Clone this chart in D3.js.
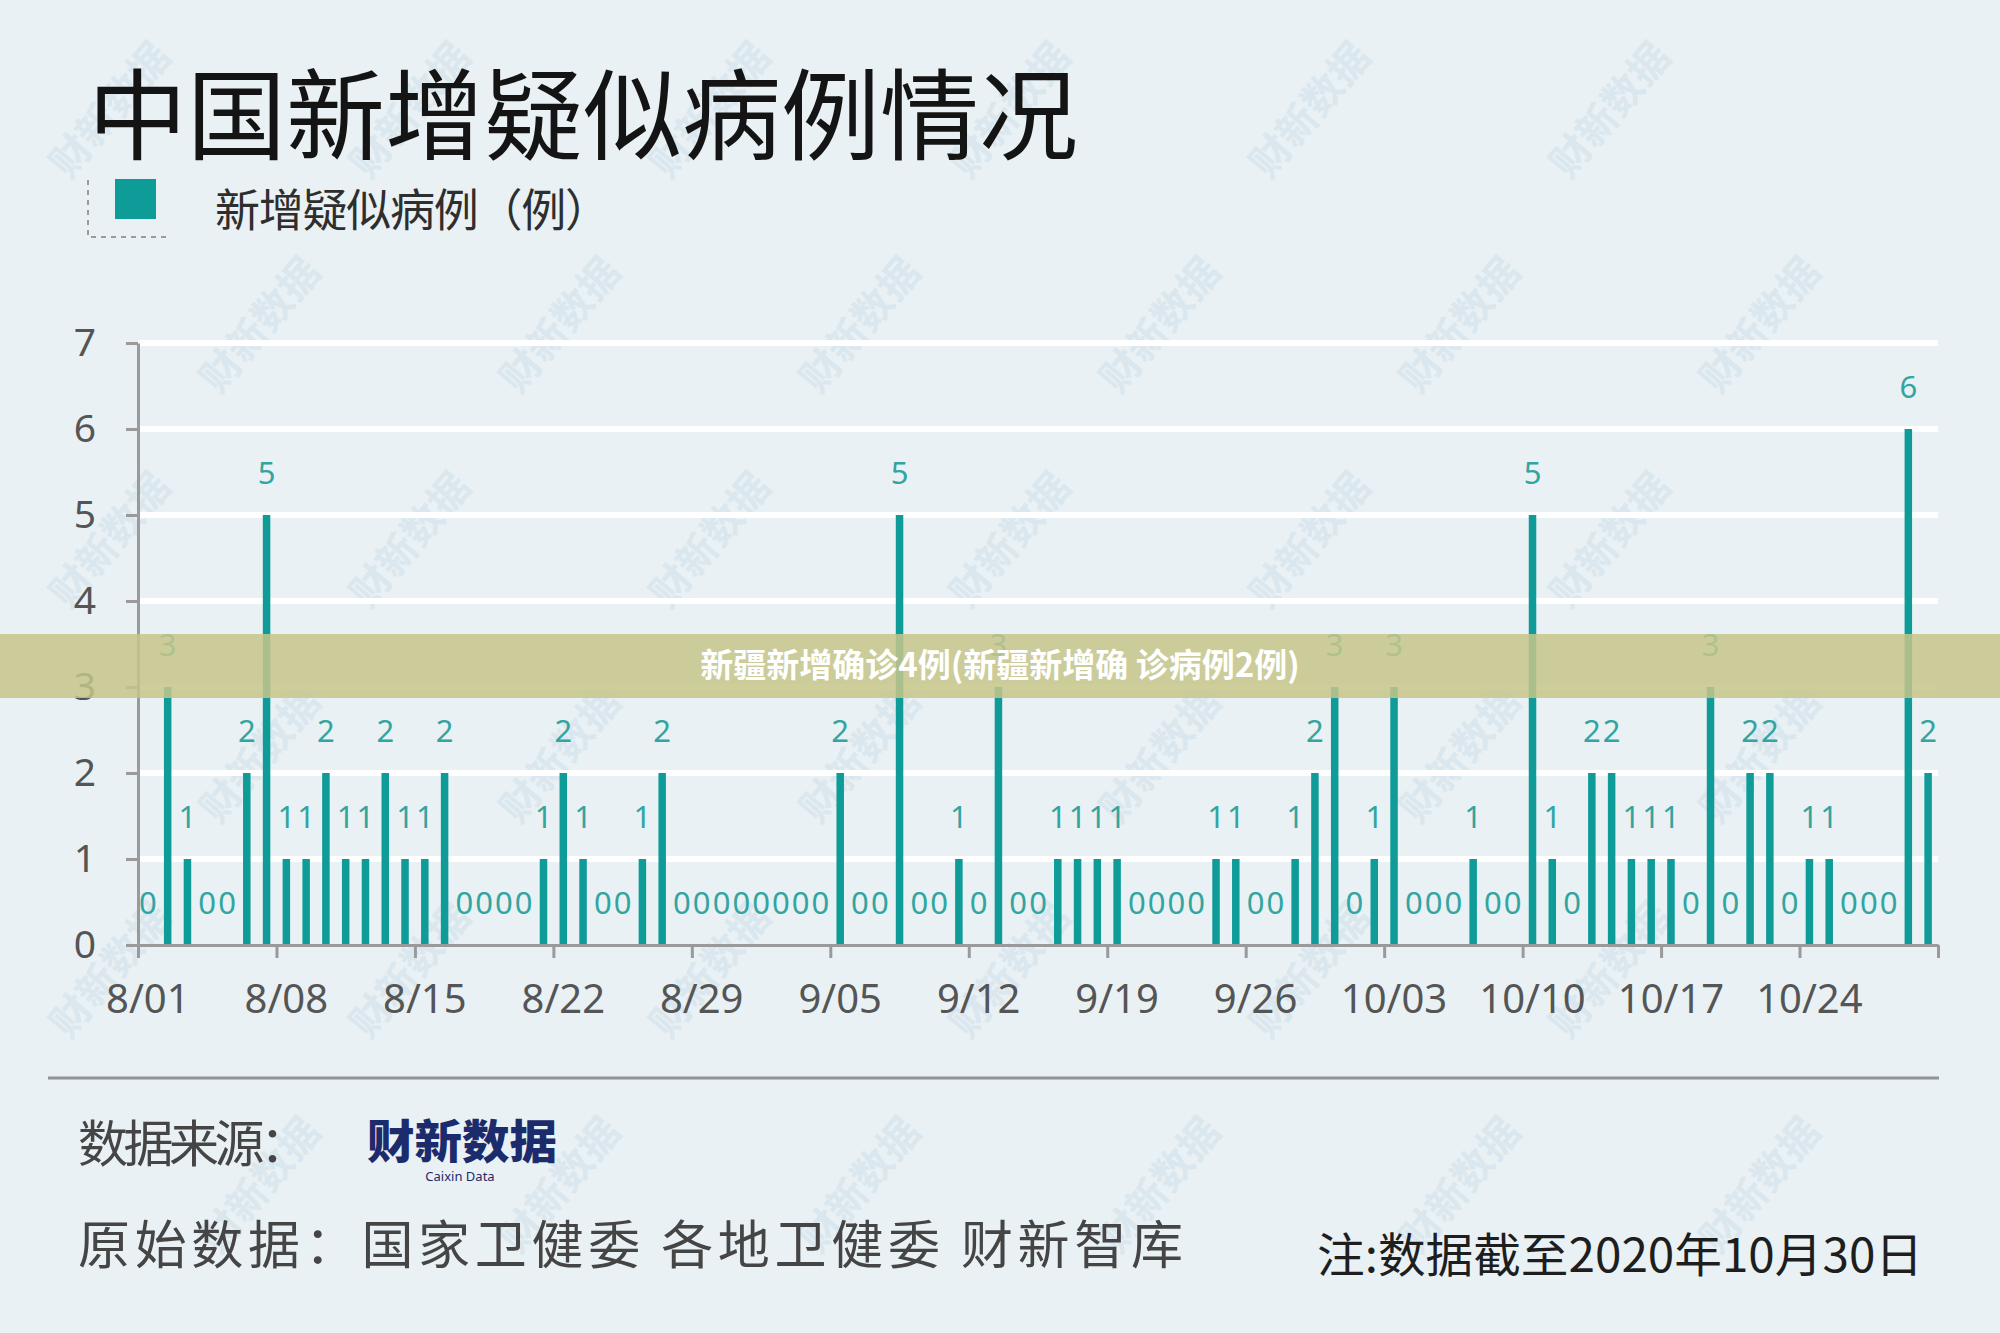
<!DOCTYPE html>
<html>
<head>
<meta charset="utf-8">
<script src="https://cdn.jsdelivr.net/npm/d3@7"></script>
<style>
  html, body { margin: 0; padding: 0; background: #e9f1f4; }
  svg { display: block; }
</style>
</head>
<body>
<svg id="chart" width="2000" height="1333"></svg>
<script>
// daily new suspected cases, 8/01 .. 10/30 (one value per day)
var newSuspected = [
  0, 3, 1, 0, 0, 2, 5, 1, 1, 2, 1, 1, 2, 1, 1, 2, 0, 0, 0, 0,
  1, 2, 1, 0, 0, 1, 2, 0, 0, 0, 0, 0, 0, 0, 0, 2, 0, 0, 5, 0,
  0, 1, 0, 3, 0, 0, 1, 1, 1, 1, 0, 0, 0, 0, 1, 1, 0, 0, 1, 2,
  3, 0, 1, 3, 0, 0, 0, 1, 0, 0, 5, 1, 0, 2, 2, 1, 1, 1, 0, 3,
  0, 2, 2, 0, 1, 1, 0, 0, 0, 6, 2
];
var tickDays   = [0, 7, 14, 21, 28, 35, 42, 49, 56, 63, 70, 77, 84];
var tickLabels = ["8/01","8/08","8/15","8/22","8/29","9/05","9/12","9/19","9/26","10/03","10/10","10/17","10/24"];
var yTicks = [0, 1, 2, 3, 4, 5, 6, 7];

var titleText  = "中国新增疑似病例情况";
var legendText = "新增疑似病例（例）";
var sourceLabel = "数据来源：";
var rawSource  = "原始数据：国家卫健委 各地卫健委 财新智库";
var noteText   = "注:数据截至2020年10月30日";
var bannerText = "新疆新增确诊4例(新疆新增确 诊病例2例)";

var TEAL = "#0f9b97";
var CJK = "'Noto Sans CJK SC', 'Noto Sans', sans-serif";

var svg = d3.select("#chart");

// background
svg.append("rect").attr("width", 2000).attr("height", 1333).attr("fill", "#e9f1f4");

// faint diagonal watermarks
var wm = svg.append("g").attr("fill", "#dbe7ee").attr("font-family", CJK)
    .attr("font-size", 40).attr("font-weight", 700);
for (var r = 0; r < 6; r++) {
  for (var c = 0; c < 7; c++) {
    var wx = 110 + c * 300 + (r % 2) * 150;
    var wy = 110 + r * 215;
    if (wx > 1900 || wy > 1250) continue;
    wm.append("text").attr("transform", "translate(" + wx + "," + wy + ") rotate(-50)")
      .attr("text-anchor", "middle").attr("dy", "0.35em").text("财新数据");
  }
}

// title
svg.append("text").attr("x", 88).attr("y", 152)
  .attr("font-family", CJK).attr("font-size", 99).attr("fill", "#141414")
  .text(titleText);

// legend
svg.append("path").attr("d", "M88,180 V237 H168")
  .attr("fill", "none").attr("stroke", "#9a9a9a").attr("stroke-width", 2)
  .attr("stroke-dasharray", "5,5");
svg.append("rect").attr("x", 115).attr("y", 179).attr("width", 41).attr("height", 40).attr("fill", TEAL);
svg.append("text").attr("x", 215).attr("y", 227)
  .attr("font-family", CJK).attr("font-size", 45).attr("fill", "#2e2e2e")
  .attr("textLength", 395).attr("lengthAdjust", "spacing")
  .text(legendText);

// scales
var leftX = 138, rightX = 1938, baseY = 945, topY = 343;
var x = d3.scaleBand().domain(d3.range(newSuspected.length)).range([leftX, rightX]).padding(0);
var xLin = d3.scaleLinear().domain([0, newSuspected.length]).range([leftX, rightX]);
var y = d3.scaleLinear().domain([0, 7]).range([baseY, topY]);

// gridlines
svg.append("g").selectAll("line").data(yTicks.slice(1)).join("line")
  .attr("x1", leftX).attr("x2", rightX)
  .attr("y1", function(d){ return y(d); }).attr("y2", function(d){ return y(d); })
  .attr("stroke", "#ffffff").attr("stroke-width", 6);

// bars
var bw = 7.5;
svg.append("g").selectAll("rect").data(newSuspected).join("rect")
  .attr("x", function(d, i){ return x(i) + x.bandwidth() / 2 - bw / 2; })
  .attr("y", function(d){ return y(d); })
  .attr("width", bw)
  .attr("height", function(d){ return baseY - y(d); })
  .attr("fill", TEAL);

// value labels
svg.append("g").selectAll("text").data(newSuspected).join("text")
  .attr("x", function(d, i){ return x(i) + x.bandwidth() / 2; })
  .attr("y", function(d){ return y(d) - 31; })
  .attr("text-anchor", "middle")
  .attr("font-family", "'Noto Sans', sans-serif").attr("font-size", 31)
  .attr("fill", "#33a5a0")
  .text(function(d){ return d; });

// y axis
var yAxis = svg.append("g").attr("transform", "translate(" + leftX + ",0)")
  .call(d3.axisLeft(y).tickValues(yTicks).tickFormat(d3.format("d"))
    .tickSize(12).tickPadding(30).tickSizeOuter(0));
yAxis.select(".domain").attr("stroke", "#9a9a9a").attr("stroke-width", 3);
yAxis.selectAll(".tick line").attr("stroke", "#9a9a9a").attr("stroke-width", 3);
yAxis.selectAll(".tick text").attr("font-family", "'Noto Sans', sans-serif")
  .attr("font-size", 39).attr("fill", "#555");

// x axis (ticks at start of each labelled day, labels centred on the day)
var xAxis = svg.append("g").attr("transform", "translate(0," + baseY + ")")
  .call(d3.axisBottom(xLin).tickValues(tickDays.concat([newSuspected.length]))
    .tickSize(13).tickFormat("").tickSizeOuter(0));
xAxis.select(".domain").attr("stroke", "#9a9a9a").attr("stroke-width", 3);
xAxis.selectAll(".tick line").attr("stroke", "#9a9a9a").attr("stroke-width", 3);

svg.append("g").selectAll("text").data(tickDays).join("text")
  .attr("x", function(d){ return x(d) + x.bandwidth() / 2; })
  .attr("y", 1013)
  .attr("text-anchor", "middle")
  .attr("font-family", "'Noto Sans', sans-serif").attr("font-size", 40).attr("fill", "#555")
  .text(function(d, i){ return tickLabels[i]; });

// footer rule
svg.append("line").attr("x1", 48).attr("x2", 1939).attr("y1", 1078).attr("y2", 1078)
  .attr("stroke", "#8e9498").attr("stroke-width", 3);

svg.append("text").attr("x", 78).attr("y", 1162)
  .attr("font-family", CJK).attr("font-size", 50).attr("fill", "#454545")
  .attr("textLength", 232).attr("lengthAdjust", "spacing")
  .text(sourceLabel);
// logo
svg.append("text").attr("x", 367).attr("y", 1158)
  .attr("font-family", CJK).attr("font-size", 46).attr("font-weight", 900)
  .attr("fill", "#1c2b6b").attr("textLength", 190).attr("lengthAdjust", "spacingAndGlyphs")
  .text("财新数据");
svg.append("text").attr("x", 460).attr("y", 1181).attr("text-anchor", "middle")
  .attr("font-family", "'Noto Sans', sans-serif").attr("font-size", 13).attr("fill", "#1c2b6b")
  .text("Caixin Data");

svg.append("text").attr("x", 78).attr("y", 1264)
  .attr("font-family", CJK).attr("font-size", 52).attr("fill", "#454545")
  .attr("xml:space", "preserve")
  .attr("textLength", 1105).attr("lengthAdjust", "spacing")
  .text(rawSource);
svg.append("text").attr("x", 1923).attr("y", 1272).attr("text-anchor", "end")
  .attr("font-family", CJK).attr("font-size", 47).attr("fill", "#1e1e1e")
  .attr("textLength", 606).attr("lengthAdjust", "spacingAndGlyphs")
  .text(noteText);

// overlay banner
svg.append("rect").attr("x", 0).attr("y", 634).attr("width", 2000).attr("height", 64)
  .attr("fill", "#c6c68a").attr("fill-opacity", 0.85);
svg.append("text").attr("x", 1000).attr("y", 677).attr("text-anchor", "middle")
  .attr("font-family", CJK).attr("font-size", 33).attr("font-weight", 700).attr("fill", "#ffffff")
  .text(bannerText);
</script>
</body>
</html>
